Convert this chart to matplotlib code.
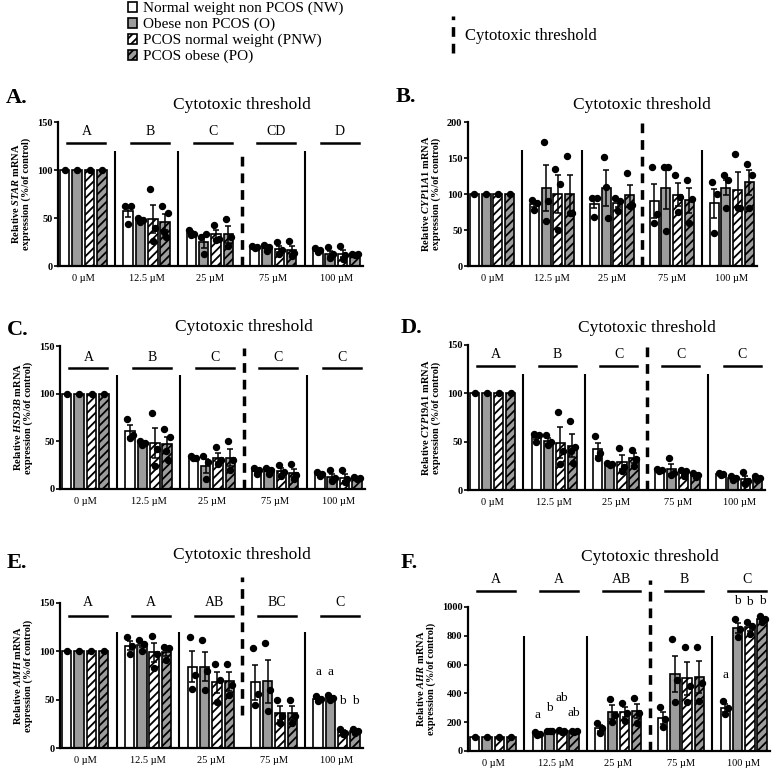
import numpy as np
import matplotlib
matplotlib.use("Agg")
import matplotlib.pyplot as plt
import matplotlib.transforms as mtransforms
from matplotlib.patches import Patch
from matplotlib.lines import Line2D
from matplotlib.legend_handler import HandlerBase

plt.rcParams["font.family"] = ["Liberation Serif", "DejaVu Serif"]
plt.rcParams["mathtext.fontset"] = "custom"
plt.rcParams["mathtext.it"] = "Liberation Serif:italic:bold"
plt.rcParams["mathtext.rm"] = "Liberation Serif:bold"
plt.rcParams["hatch.linewidth"] = 1.3

DOSES = ["0 µM", "12.5 µM", "25 µM", "75 µM", "100 µM"]
GROUPS = ["Normal weight non PCOS (NW)", "Obese non PCOS (O)",
          "PCOS normal weight (PNW)", "PCOS obese (PO)"]

# ---- A. STAR ----
STAR_MEAN = [[100, 100, 100, 100], [57, 48, 49, 46], [34, 25, 33, 33],
             [20, 19, 18, 17], [17, 13, 13, 12]]
STAR_SEM = [[0, 0, 0, 0], [6, 1, 15, 8], [2, 6, 5, 9], [1, 2, 3, 4], [1, 3, 4, 1]]
STAR_PTS = [[[100]] * 4,
            [[63, 63, 44], [50, 48, 46], [80, 40, 26], [63, 55, 35, 30]],
            [[38, 33, 32], [30, 33, 12], [43, 28, 27], [49, 30, 21]],
            [[21, 20, 19], [22, 20, 16], [25, 17, 13], [26, 14, 10]],
            [[19, 17, 15], [20, 12, 8], [21, 11, 7], [13, 12, 11]]]
STAR_LETTERS = ["A", "B", "C", "CD", "D"]

# ---- B. CYP11A1 ----
CYP11_MEAN = [[100, 100, 100, 100], [86, 108, 100, 100], [86, 109, 87, 99],
              [90, 108, 99, 91], [87, 109, 106, 116]]
CYP11_SEM = [[0, 0, 0, 0], [4, 32, 26, 27], [6, 25, 5, 14],
             [24, 29, 16, 18], [20, 10, 25, 18]]
CYP11_PTS = [[[100]] * 4,
             [[92, 88, 78], [172, 90, 63], [135, 114, 50], [153, 73, 73]],
             [[95, 95, 68], [152, 66, 110], [95, 90, 77], [129, 85, 84]],
             [[138, 72, 60], [138, 138, 49], [127, 96, 75], [120, 93, 60]],
             [[116, 100, 46], [126, 119, 81], [156, 81, 81], [142, 126, 81]]]

# ---- C. HSD3B ----
HSD_MEAN = [[100, 100, 100, 100], [61, 48, 48, 47], [33, 24, 33, 33],
            [19, 19, 19, 17], [16, 13, 12, 12]]
HSD_SEM = [[0, 0, 0, 0], [6, 1, 16, 8], [1, 7, 5, 9], [2, 2, 3, 4], [1, 3, 4, 1]]
HSD_PTS = [[[100]] * 4,
           [[73, 57, 53], [50, 48, 46], [80, 42, 24], [63, 55, 40, 30]],
           [[35, 33, 32], [35, 28, 10], [44, 30, 26], [50, 30, 20]],
           [[22, 20, 16], [22, 20, 16], [25, 18, 14], [26, 15, 11]],
           [[18, 16, 14], [20, 12, 8], [20, 10, 7], [13, 12, 11]]]
HSD_LETTERS = ["A", "B", "C", "C", "C"]

# ---- D. CYP19A1 ----
CYP19_MEAN = [[100, 100, 100, 100], [55, 51, 49, 46], [42, 27, 29, 33],
              [21, 22, 19, 16], [17, 12, 11, 12]]
CYP19_SEM = [[0, 0, 0, 0], [2, 3, 16, 12], [7, 1, 7, 5], [1, 5, 2, 1.5], [1, 1, 4, 1]]
CYP19_PTS = [[[100]] * 4,
             [[58, 57, 50], [57, 50, 47], [81, 40, 27], [71, 45, 40, 28]],
             [[56, 38, 33], [28, 27, 26], [43, 24, 20], [41, 32, 25]],
             [[22, 21, 20], [33, 18, 16], [21, 20, 15], [18, 16, 13]],
             [[18, 17, 16], [14, 12, 10], [19, 9, 6], [14, 12, 10]]]
CYP19_LETTERS = ["A", "B", "C", "C", "C"]

# ---- E. AMH ----
AMH_MEAN = [[100, 100, 100, 100], [106, 107, 99, 99], [84, 84, 68, 69],
            [68, 69, 36, 36], [51, 52, 17, 18]]
AMH_SEM = [[0, 0, 0, 0], [5, 3, 10, 4], [16, 15, 11, 10], [18, 22, 7, 7],
           [1.5, 1.5, 2, 1]]
AMH_PTS = [[[100]] * 4,
           [[115, 106, 97], [112, 108, 100], [116, 97, 83], [104, 103, 91]],
           [[115, 76, 61], [112, 80, 60], [87, 70, 48], [87, 65, 55]],
           [[103, 56, 45], [109, 60, 38], [50, 33, 26], [50, 33, 26]],
           [[54, 51, 49], [55, 52, 50], [20, 16, 14], [20, 18, 16]]]
AMH_LETTERS = ["A", "A", "AB", "BC", "C"]
AMH_SMALL = {4: (["a", "a", "b", "b"], [79, 79, 49, 49])}

# ---- F. AHR ----
AHR_MEAN = [[100, 100, 100, 100], [120, 140, 140, 138], [160, 270, 270, 275],
            [230, 535, 505, 515], [300, 855, 860, 915]]
AHR_SEM = [[0, 0, 0, 0], [6, 1, 3, 2], [20, 47, 36, 49], [41, 127, 115, 110],
           [26, 36, 24, 12]]
AHR_PTS = [[[100]] * 4,
           [[130, 120, 110], [142, 140, 138], [145, 140, 135], [142, 138, 134]],
           [[195, 160, 125], [360, 250, 200], [335, 265, 210], [365, 265, 195]],
           [[305, 220, 165], [775, 490, 340], [725, 450, 340], [725, 470, 350]],
           [[345, 300, 255], [920, 850, 795], [895, 870, 815], [935, 915, 895]]]
AHR_LETTERS = ["A", "A", "AB", "B", "C"]
AHR_SMALL = {1: (["a", "b", "ab", "ab"], [250, 297, 367, 262]),
             4: (["a", "b", "b", "b"], [529, 1044, 1032, 1044])}

FILLS = ["white", "#9c9c9c", "white", "#9c9c9c"]
HATCHES = [None, None, "////", "////"]
OFFS = [-0.294, -0.098, 0.098, 0.294]
W = 0.15
JIT = {1: [0.0], 3: [-0.04, 0.04, 0.0], 4: [-0.045, 0.045, -0.015, 0.015]}
DASH = (0, (2.8, 2.0))

W_PX, H_PX = 776, 772
fig = plt.figure(figsize=(W_PX / 100, H_PX / 100), dpi=100)


def rect(left, top, right, bottom):
    return [left / W_PX, 1 - bottom / H_PX, (right - left) / W_PX, (bottom - top) / H_PX]


def panel(box, label, label_xy, gene, mean, sem, pts, ymax, yticks, letters=None,
          line_y=None, text_y=None, sep_top=None, dash=None, title_y=1.12,
          small=None):
    ax = fig.add_axes(rect(*box))
    mean = np.array(mean, float)
    sem = np.array(sem, float)
    x0 = np.arange(len(DOSES))
    for k in range(4):
        xs = x0 + OFFS[k]
        ax.bar(xs, mean[:, k], width=W, color=FILLS[k], hatch=HATCHES[k],
               edgecolor="black", linewidth=1.2, zorder=2)
        ax.errorbar(xs, mean[:, k], yerr=sem[:, k], fmt="none", ecolor="black",
                    elinewidth=1.1, capsize=2.3, capthick=1.1, zorder=3)
        for g in x0:
            p = pts[g][k]
            ax.plot(xs[g] + np.array(JIT[len(p)]), p, "o", color="black", ms=4.3,
                    zorder=4, clip_on=False)

    ax.set_xlim(-0.4, 4.42)
    ax.set_ylim(0, ymax)
    ax.set_yticks(yticks)
    ax.set_xticks(x0)
    ax.set_xticklabels(DOSES)
    ax.tick_params(axis="x", length=0, labelsize=7.5, pad=6)
    ax.tick_params(axis="y", length=3, width=1.2, labelsize=7.5, pad=1)
    for t in ax.get_yticklabels():
        t.set_fontweight("bold")
    for s in ["top", "right"]:
        ax.spines[s].set_visible(False)
    for s in ["left", "bottom"]:
        ax.spines[s].set_linewidth(1.6)
    ax.set_ylabel(f"Relative $\\mathit{{{gene}}}$ mRNA\nexpression (%/of control)",
                  fontsize=7.5, fontweight="bold", labelpad=4, linespacing=1.1)

    seps = x0[:-1] + 0.5
    ax.vlines(seps[[0, 1, 3]], 0, sep_top, colors="black", lw=1.5, zorder=1)
    ax.plot([seps[2], seps[2]], dash, ls=DASH, lw=2.5, color="black",
            clip_on=False, zorder=1)

    if letters:
        for g, lt in zip(x0, letters):
            ax.plot([g - 0.25, g + 0.35], [line_y, line_y], color="black", lw=1.8,
                    clip_on=False)
            ax.text(g + 0.05, text_y, lt, ha="center", va="center", fontsize=10,
                    clip_on=False)
    if small:
        for g, (labs, ys) in small.items():
            for k, (lb, yy) in enumerate(zip(labs, ys)):
                ax.text(g + OFFS[k], yy, lb, ha="center", va="center", fontsize=9.5)

    trans = mtransforms.blended_transform_factory(ax.transData, ax.transAxes)
    ax.text(seps[2], title_y, "Cytotoxic threshold", transform=trans, ha="center",
            va="center", fontsize=12.5)
    fig.text(label_xy[0] / W_PX, 1 - label_xy[1] / H_PX, label, fontsize=16,
             fontweight="bold", ha="left", va="center")
    return ax


panel((58, 122, 363, 266), "A.", (6, 98), "STAR", STAR_MEAN, STAR_SEM, STAR_PTS,
      150, [0, 50, 100, 150], STAR_LETTERS, 128, 140, 120, (0, 120), 1.12)
panel((468, 122, 757, 266), "B.", (396, 97), "CYP11A1", CYP11_MEAN, CYP11_SEM,
      CYP11_PTS, 200, [0, 50, 100, 150, 200], None, None, None, 161, (0, 198), 1.12)
panel((60, 346, 365, 489), "C.", (7, 330), "HSD3B", HSD_MEAN, HSD_SEM, HSD_PTS,
      150, [0, 50, 100, 150], HSD_LETTERS, 127, 138, 120, (0, 148), 1.13)
panel((468, 345, 765, 490), "D.", (401, 328), "CYP19A1", CYP19_MEAN, CYP19_SEM,
      CYP19_PTS, 150, [0, 50, 100, 150], CYP19_LETTERS, 128, 140, 120, (0, 150), 1.12)
panel((60, 603, 363, 748), "E.", (7, 563), "AMH", AMH_MEAN, AMH_SEM, AMH_PTS,
      150, [0, 50, 100, 150], AMH_LETTERS, 137, 150, 120, (34, 177), 1.33,
      AMH_SMALL)
panel((468, 607, 770, 751), "F.", (401, 563), "AHR", AHR_MEAN, AHR_SEM, AHR_PTS,
      1000, [0, 200, 400, 600, 800, 1000], AHR_LETTERS, 1109, 1190, 800, (0, 1190),
      1.35, AHR_SMALL)


class VDashHandler(HandlerBase):
    def create_artists(self, legend, orig, xd, yd, width, height, fontsize, trans):
        xm = xd + width / 2
        yc = yd + height / 2
        ln = Line2D([xm, xm], [yc - height * 1.6, yc + height * 1.6], ls=DASH,
                    lw=2.5, color="black", transform=trans)
        return [ln]


handles = [Patch(facecolor=f, edgecolor="black", hatch=h, linewidth=1.2)
           for f, h in zip(FILLS, HATCHES)]
fig.legend(handles, GROUPS, loc="upper left", bbox_to_anchor=(126 / W_PX, 1.0),
           frameon=False, fontsize=11, handlelength=0.6, handleheight=0.65,
           handletextpad=0.4, labelspacing=0.16, borderpad=0.1, borderaxespad=0)
thr = Line2D([], [])
fig.legend([thr], ["Cytotoxic threshold"], handler_map={thr: VDashHandler()},
           loc="center left", bbox_to_anchor=(448 / W_PX, 1 - 36 / H_PX),
           frameon=False, fontsize=12, handlelength=0.6, handletextpad=0.4,
           borderpad=0, borderaxespad=0)

fig.savefig("out.png", dpi=100)
